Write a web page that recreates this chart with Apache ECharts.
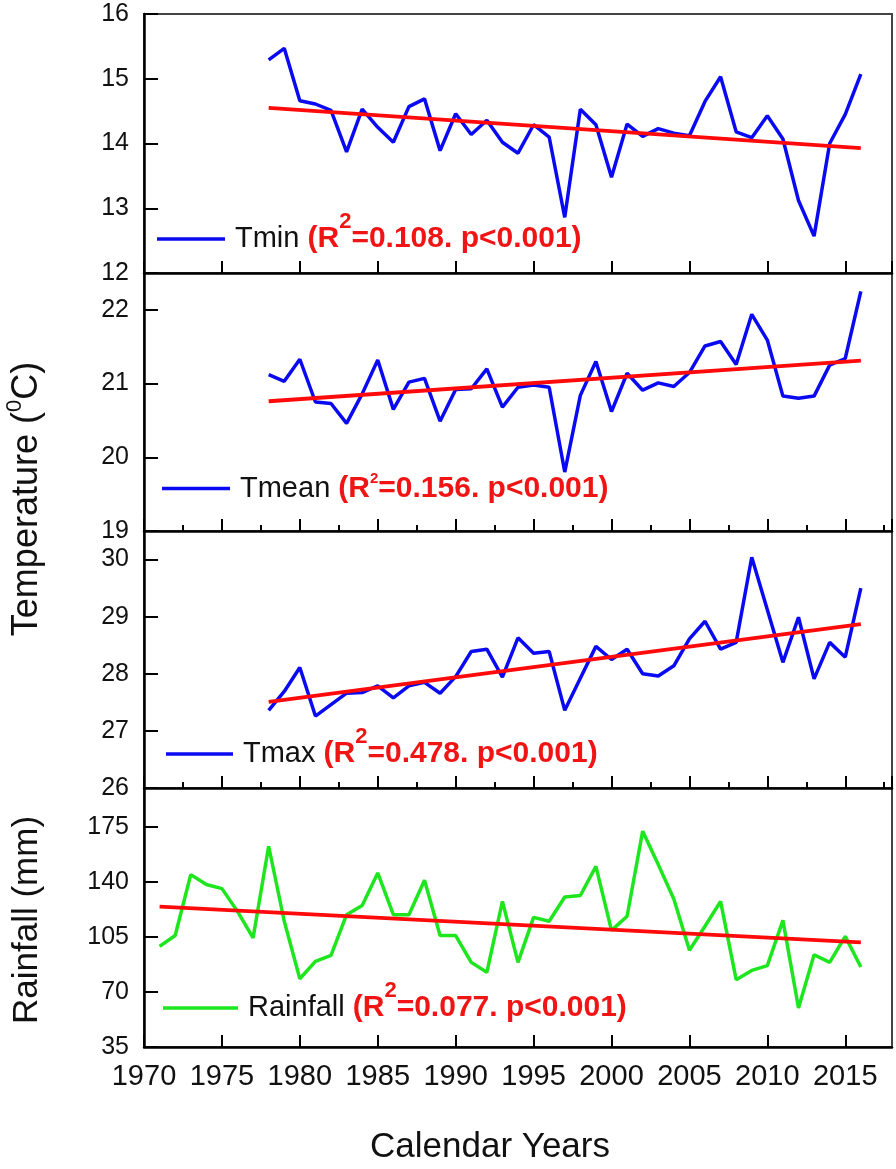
<!DOCTYPE html>
<html><head><meta charset="utf-8">
<script src="https://cdn.jsdelivr.net/npm/echarts@6/dist/echarts.min.js"></script>
<style>html,body{margin:0;padding:0;background:#fff}#c{width:896px;height:1169px}</style>
</head><body><div id="c"></div>
<script>
// ---------------- data ----------------
const tempYears = [1978,1979,1980,1981,1982,1983,1984,1985,1986,1987,1988,1989,1990,1991,1992,1993,1994,
  1995,1996,1997,1998,1999,2000,2001,2002,2003,2004,2005,2006,2007,2008,2009,2010,2011,2012,2013,2014,2015,2016];
const rainYears = [1971,1972,1973,1974,1975,1976,1977,1978,1979,1980,1981,1982,1983,1984,1985,1986,1987,1988,1989,1990,1991,1992,1993,1994,
  1995,1996,1997,1998,1999,2000,2001,2002,2003,2004,2005,2006,2007,2008,2009,2010,2011,2012,2013,2014,2015,2016];
const tmin = [15.29,15.47,14.66,14.61,14.51,13.87,14.53,14.25,14.02,14.57,14.69,13.89,14.46,14.14,14.36,14.02,13.85,
  14.29,14.10,12.86,14.53,14.29,13.48,14.30,14.11,14.23,14.16,14.12,14.65,15.03,14.18,14.09,14.43,14.07,13.12,12.57,14.00,14.45,15.07];
const tmean = [21.12,21.03,21.33,20.75,20.73,20.46,20.86,21.32,20.65,21.02,21.07,20.49,20.92,20.93,21.20,20.68,20.95,
  20.98,20.95,19.80,20.84,21.30,20.62,21.14,20.91,21.01,20.96,21.15,21.51,21.57,21.26,21.94,21.59,20.83,20.80,20.83,21.25,21.34,22.25];
const tmax = [27.36,27.69,28.11,27.26,27.46,27.66,27.67,27.79,27.58,27.79,27.85,27.66,27.95,28.39,28.43,27.94,28.63,
  28.36,28.39,27.36,27.92,28.48,28.25,28.43,28.00,27.96,28.14,28.61,28.92,28.43,28.55,30.04,29.12,28.20,28.99,27.91,28.55,28.29,29.50];
const rainfall = [99.1,106.0,144.8,138.5,135.9,121.4,104.5,162.9,115.1,78.5,89.6,93.4,119.3,125.1,145.9,119.3,119.3,141.2,106.0,106.0,88.9,82.6,127.8,88.9,
  117.6,115.1,130.6,131.5,150.1,109.3,118.3,172.5,151.2,129.3,96.6,111.9,127.8,77.9,83.8,86.8,115.7,59.9,93.8,88.9,105.5,86.0];

const trendYearsTemp = [1978, 2016];
const trendYearsRain = [1971, 2016];
const tminTrend = [14.55, 13.93];
const tmeanTrend = [20.76, 21.31];
const tmaxTrend = [27.51, 28.87];
const rainTrend = [124.4, 101.7];

const seriesNames = ['Tmin', 'Tmean', 'Tmax', 'Rainfall'];
const r2Values = ['0.108', '0.156', '0.478', '0.077'];
const pText = 'p<0.001';

const xTicks = [1970,1975,1980,1985,1990,1995,2000,2005,2010,2015];
const xMax = 2018;
const tminTicks = [12,13,14,15,16];
const tmeanTicks = [19,20,21,22];
const tmaxTicks = [26,27,28,29,30];
const rainTicks = [35,70,105,140,175];
const yMaxes = [16, 22.5, 30.5, 200];

const xTitle = 'Calendar Years';
const tempTitle = ['Temperature (', '0', 'C)'];
const rainTitle = 'Rainfall (mm)';

// ---------------- build ----------------
const FONT = '"Liberation Sans", Arial, sans-serif';
const pair = (xs, ys) => xs.map((x, i) => [x, ys[i]]);
const tickSets = [tminTicks, tmeanTicks, tmaxTicks, rainTicks];
const lineData = [pair(tempYears, tmin), pair(tempYears, tmean), pair(tempYears, tmax), pair(rainYears, rainfall)];
const trendData = [pair(trendYearsTemp, tminTrend), pair(trendYearsTemp, tmeanTrend), pair(trendYearsTemp, tmaxTrend), pair(trendYearsRain, rainTrend)];
const lineColors = ['#0a0af2', '#0a0af2', '#0a0af2', '#1ee61e'];

const gridBoxes = [
  {top: 14, height: 259},
  {top: 273, height: 258},
  {top: 531, height: 257},
  {top: 788, height: 259}
];
const grid = gridBoxes.map(b => ({left: 144, width: 748, top: b.top, height: b.height,
  show: true, borderColor: '#444', borderWidth: 2, backgroundColor: 'transparent'}));

const xAxis = [];
const yAxis = [];
for (let i = 0; i < 4; i++) {
  xAxis.push({
    type: 'value', gridIndex: i, position: 'bottom', min: xTicks[0], max: xMax,
    interval: xTicks[1] - xTicks[0],
    axisLine: {show: true, onZero: false, lineStyle: {color: '#000', width: 2.5}},
    axisTick: {show: true, inside: true, length: 12, lineStyle: {color: '#000', width: 2}},
    axisLabel: {show: i === 3, showMaxLabel: false, fontSize: 29, fontFamily: FONT, color: '#111', margin: 15,
      formatter: v => String(v)},
    splitLine: {show: false}
  });
  const t = tickSets[i];
  yAxis.push({
    type: 'value', gridIndex: i, min: t[0], max: yMaxes[i], interval: t[1] - t[0],
    axisLine: {show: true, onZero: false, lineStyle: {color: '#000', width: 2.5}},
    axisTick: {show: true, inside: true, length: 14, lineStyle: {color: '#000', width: 2}},
    axisLabel: {fontSize: 25, fontFamily: FONT, color: '#111', margin: 15, showMaxLabel: i === 0},
    splitLine: {show: false}
  });
}
// minor x ticks on the two middle panels
[1, 2].forEach(i => {
  xAxis.push({
    type: 'value', gridIndex: i, position: 'bottom', min: xTicks[0], max: xMax,
    interval: (xTicks[1] - xTicks[0]) / 2,
    axisLine: {show: false},
    axisTick: {show: true, inside: true, length: 6, lineStyle: {color: '#000', width: 2}},
    axisLabel: {show: false}, splitLine: {show: false}
  });
});

const series = [];
for (let i = 0; i < 4; i++) {
  series.push({
    name: seriesNames[i], type: 'line', xAxisIndex: i, yAxisIndex: i, data: lineData[i],
    symbol: 'none', lineStyle: {color: lineColors[i], width: 3.5}, itemStyle: {color: lineColors[i]},
    silent: true, z: 2
  });
  series.push({
    name: seriesNames[i] + ' trend', type: 'line', xAxisIndex: i, yAxisIndex: i, data: trendData[i],
    symbol: 'none', lineStyle: {color: '#ff0a0a', width: 3.8}, itemStyle: {color: '#ff0a0a'},
    silent: true, z: 3
  });
}

const legendPos = [
  {left: 157, y: 239, w: 68},
  {left: 162, y: 499, w: 68},
  {left: 166, y: 754, w: 67},
  {left: 163, y: 1008, w: 75}
];
const supSize = [22, 15, 22, 22];
const LH = 56;
const legend = legendPos.map((p, i) => ({
  data: [seriesNames[i]], left: p.left, top: p.y - LH / 2, padding: 0,
  icon: 'rect', itemWidth: p.w, itemHeight: 3.5, selectedMode: false,
  formatter: name => `{n|${name}} {r|(R}{s|2}{r|=${r2Values[i]}. ${pText})}`,
  textStyle: {
    fontFamily: FONT, fontSize: 29, color: '#111',
    rich: {
      n: {fontFamily: FONT, fontSize: 29, color: '#111', lineHeight: LH, padding: [0, 0, 0, 5]},
      r: {fontFamily: FONT, fontSize: 30, fontWeight: 'bold', color: '#f01414', lineHeight: LH},
      s: {fontFamily: FONT, fontSize: supSize[i], fontWeight: 'bold', color: '#f01414', padding: [0, 0, i === 1 ? 20 : 34, 0]}
    }
  }
}));

const graphic = [
  {type: 'text', x: 27, y: 499, rotation: Math.PI / 2,
    style: {text: `{a|${tempTitle[0]}}{s|${tempTitle[1]}}{a|${tempTitle[2]}}`, align: 'center', verticalAlign: 'middle',
      rich: {a: {fontFamily: FONT, fontSize: 36, fill: '#111'},
             s: {fontFamily: FONT, fontSize: 22, fill: '#111', padding: [0, 0, 24, 0]}}}},
  {type: 'text', x: 27, y: 920, rotation: Math.PI / 2,
    style: {text: rainTitle, align: 'center', verticalAlign: 'middle', fontFamily: FONT, fontSize: 35, fill: '#111'}},
  {type: 'text', x: 490, y: 1147,
    style: {text: xTitle, align: 'center', verticalAlign: 'middle', fontFamily: FONT, fontSize: 35, fill: '#111'}}
];

const chart = echarts.init(document.getElementById('c'), null, {renderer: 'canvas'});
chart.setOption({
  animation: false, backgroundColor: '#fff',
  grid, xAxis, yAxis, series, legend, graphic
});
</script></body></html>
